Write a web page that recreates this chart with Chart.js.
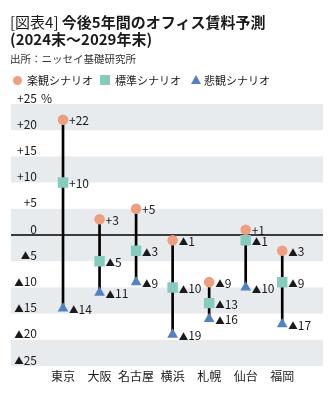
<!DOCTYPE html>
<html><head><meta charset="utf-8">
<script src="https://cdn.jsdelivr.net/npm/chart.js@4.4.1/dist/chart.umd.min.js"></script>
<style>
html,body{margin:0;padding:0;background:#fff;}
#wrap{position:relative;width:335px;height:406px;overflow:hidden;font-family:"Noto Sans CJK JP","Noto Sans",sans-serif;color:#1a1a1a;}
canvas{position:absolute;left:0;top:0;}
.t{position:absolute;left:10px;white-space:nowrap;}
#t1{top:12px;font-size:15px;font-weight:700;line-height:20px;}
#t1 span{font-weight:400;}
#t2{top:29px;font-size:15px;font-weight:700;line-height:20px;}
#src{top:52px;font-size:10.5px;line-height:14px;color:#333;}
#leg{position:absolute;top:73px;left:0;height:14px;font-size:11px;line-height:14px;}
.li{position:absolute;top:0;white-space:nowrap;}
.mk{position:absolute;}
</style></head><body>
<div id="wrap">
<canvas id="c" width="335" height="406"></canvas>
<div class="t" id="t1"><span>[図表4]</span> 今後5年間のオフィス賃料予測</div>
<div class="t" id="t2">(2024末～2029年末)</div>
<div class="t" id="src">出所：ニッセイ基礎研究所</div>
<div id="leg">
  <div class="mk" style="left:13px;top:2.5px;width:9px;height:9px;border-radius:50%;background:#ee9f7f;"></div>
  <div class="li" style="left:27px;">楽観シナリオ</div>
  <div class="mk" style="left:100px;top:2px;width:10px;height:10px;background:#86cbbd;"></div>
  <div class="li" style="left:115px;">標準シナリオ</div>
  <div class="mk" style="left:191px;top:2px;width:0;height:0;border-left:5px solid transparent;border-right:5px solid transparent;border-bottom:9px solid #5282c4;"></div>
  <div class="li" style="left:204px;">悲観シナリオ</div>
</div>
</div>
<script>
const categories = ['東京','大阪','名古屋','横浜','札幌','仙台','福岡'];
const optimistic = [22, 3, 5, -1, -9, 1, -3];
const standard   = [10, -5, -3, -10, -13, -1, -9];
const pessimistic = [-14, -11, -9, -19, -16, -10, -17];
const seriesNames = ['楽観シナリオ','標準シナリオ','悲観シナリオ'];
const yTickValues = [25, 20, 15, 10, 5, 0, -5, -10, -15, -20, -25];
const yTickLabels = ['+25','+20','+15','+10','+5','0','▲5','▲10','▲15','▲20','▲25'];
const yUnit = '%';

const FONT = '"Noto Sans CJK JP","Noto Sans",sans-serif';
const fmt = v => v > 0 ? '+' + v : (v < 0 ? '▲' + Math.abs(v) : '0');

// draw text where the ▲ mark is rendered smaller, like the reference
function drawMixed(ctx, text, x, y, align) {
  const parts = [];
  if (text.startsWith('▲')) parts.push(['▲', '9.5px ' + FONT], [text.slice(1), '12px ' + FONT]);
  else parts.push([text, '12px ' + FONT]);
  let w = 0;
  parts.forEach(p => { ctx.font = p[1]; p.push(ctx.measureText(p[0]).width); w += p[2]; });
  let cx = align === 'right' ? x - w : x;
  ctx.textAlign = 'left';
  parts.forEach(p => { ctx.font = p[1]; ctx.fillText(p[0], cx, p[0] === '▲' ? y + 0.5 : y); cx += p[2]; });
}

const bandsPlugin = {
  id: 'bands',
  beforeDatasetsDraw(chart) {
    const ctx = chart.ctx, y = chart.scales.y;
    const L = 11, R = 323;
    ctx.save();
    ctx.fillStyle = '#e8ebee';
    for (let i = 0; i < yTickValues.length - 1; i++) {
      const a = yTickValues[i], b = yTickValues[i + 1];
      const mid = Math.abs((a + b) / 2);
      if (Math.floor(mid / 5) % 2 === 0) {
        const y1 = y.getPixelForValue(a), y2 = y.getPixelForValue(b);
        ctx.fillRect(L, y1, R - L, y2 - y1);
      }
    }
    const y0 = y.getPixelForValue(0);
    ctx.strokeStyle = '#000';
    ctx.lineWidth = 1.3;
    ctx.beginPath(); ctx.moveTo(L, y0); ctx.lineTo(R, y0); ctx.stroke();
    ctx.fillStyle = '#1a1a1a';
    ctx.textBaseline = 'middle';
    yTickValues.forEach((v, i) => {
      const py = y.getPixelForValue(v) - 6;
      drawMixed(ctx, yTickLabels[i], 37, py, 'right');
      if (i === 0) { ctx.font = '12px ' + FONT; ctx.textAlign = 'left'; ctx.fillText(yUnit, 41, py); }
    });
    ctx.restore();
  },
  afterDatasetsDraw(chart) {
    const ctx = chart.ctx;
    ctx.save();
    ctx.fillStyle = '#1a1a1a';
    ctx.textBaseline = 'middle';
    [1, 2, 3].forEach(di => {
      const meta = chart.getDatasetMeta(di);
      const data = chart.data.datasets[di].data;
      meta.data.forEach((pt, i) => {
        drawMixed(ctx, fmt(data[i]), pt.x + 6, pt.y + 1, 'left');
      });
    });
    ctx.restore();
  }
};

new Chart(document.getElementById('c'), {
  type: 'bar',
  data: {
    labels: categories,
    datasets: [
      { label: 'range', data: categories.map((c, i) => [pessimistic[i], optimistic[i]]),
        backgroundColor: '#000', barThickness: 2, order: 10, borderWidth: 0 },
      { type: 'line', label: seriesNames[0], data: optimistic, showLine: false,
        pointStyle: 'circle', pointRadius: 5.3, pointBackgroundColor: '#ee9f7f', pointBorderWidth: 0, order: 3 },
      { type: 'line', label: seriesNames[1], data: standard, showLine: false,
        pointStyle: 'rect', pointRadius: 7.4, pointBackgroundColor: '#86cbbd', pointBorderWidth: 0, order: 2 },
      { type: 'line', label: seriesNames[2], data: pessimistic, showLine: false,
        pointStyle: 'triangle', pointRadius: 6.2, pointBackgroundColor: '#5282c4', pointBorderWidth: 0, order: 1 }
    ]
  },
  options: {
    responsive: false,
    devicePixelRatio: 1,
    animation: false,
    layout: { padding: { left: 44.75, right: 34.5, top: 104, bottom: 19.6 } },
    plugins: { legend: { display: false }, tooltip: { enabled: false } },
    scales: {
      x: { offset: true, grid: { display: false, drawTicks: false }, border: { display: false },
           ticks: { padding: 3, color: '#1a1a1a', maxRotation: 0, minRotation: 0, autoSkip: false,
                    font: { size: 12, family: FONT } } },
      y: { display: false, min: -25, max: 25 }
    }
  },
  plugins: [bandsPlugin]
});
</script>
</body></html>
